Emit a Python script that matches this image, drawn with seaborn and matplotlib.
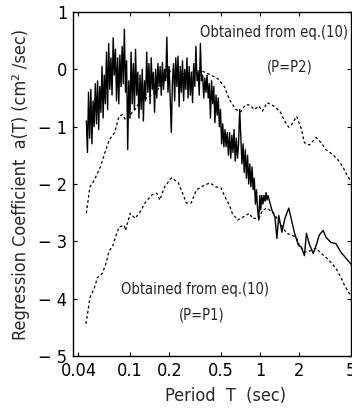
import matplotlib
matplotlib.use("Agg")
import matplotlib.pyplot as plt
import seaborn as sns
import pandas as pd
from matplotlib.ticker import FixedLocator, FixedFormatter, NullLocator
from matplotlib import font_manager as fm

# ---------------- data ----------------
# observed regression coefficient (solid, noisy)
obs_T = [
    0.0460, 0.0469, 0.0478, 0.0488, 0.0498, 0.0508, 0.0518, 0.0528, 0.0539, 0.0550,
    0.0561, 0.0572, 0.0583, 0.0595, 0.0607, 0.0619, 0.0631, 0.0644, 0.0657, 0.0670,
    0.0683, 0.0697, 0.0711, 0.0725, 0.0740, 0.0754, 0.0770, 0.0785, 0.0801, 0.0817,
    0.0833, 0.0850, 0.0867, 0.0884, 0.0902, 0.0920, 0.0938, 0.0957, 0.0976, 0.0996,
    0.1016, 0.1036, 0.1057, 0.1078, 0.1099, 0.1121, 0.1144, 0.1167, 0.1190, 0.1214,
    0.1238, 0.1263, 0.1288, 0.1314, 0.1340, 0.1367, 0.1394, 0.1422, 0.1451, 0.1480,
    0.1509, 0.1540, 0.1570, 0.1602, 0.1634, 0.1667, 0.1700, 0.1734, 0.1769, 0.1804,
    0.1840, 0.1877, 0.1914, 0.1953, 0.1992, 0.2032, 0.2072, 0.2114, 0.2156, 0.2199,
    0.2243, 0.2288, 0.2334, 0.2380, 0.2428, 0.2477, 0.2526, 0.2577, 0.2628, 0.2681,
    0.2734, 0.2789, 0.2845, 0.2902, 0.2960, 0.3019, 0.3079, 0.3141, 0.3204, 0.3268,
    0.3333, 0.3400, 0.3468, 0.3537, 0.3608, 0.3680, 0.3754, 0.3829, 0.3905, 0.3984,
    0.4063, 0.4145, 0.4228, 0.4312, 0.4398, 0.4486, 0.4576, 0.4668, 0.4761, 0.4856,
    0.4953, 0.5052, 0.5153, 0.5256, 0.5362, 0.5469, 0.5578,
    0.570, 0.582, 0.594, 0.606, 0.618, 0.630, 0.643, 0.656, 0.669, 0.682,
    0.696, 0.710, 0.724, 0.739, 0.754, 0.769, 0.784, 0.800, 0.816, 0.832,
    0.849, 0.866, 0.883, 0.901, 0.919, 0.937, 0.956, 0.975, 0.995,
    1.01, 1.03, 1.05, 1.07, 1.09, 1.11, 1.13, 1.15, 1.18, 1.233,
    1.30, 1.345, 1.39, 1.47, 1.55, 1.66, 1.75, 1.84, 1.97, 2.08,
    2.19, 2.27, 2.39, 2.56, 2.70, 2.85, 3.05, 3.21, 3.51, 3.83,
    4.18, 4.72, 5.0,
]
obs_V = [
    -0.90, -1.45, -0.40, -1.20, -0.35, -1.30, -0.55, -1.00, -0.25, -0.95,
    -0.20, -1.05, -0.30, -0.75, 0.05, -0.85, -0.10, -0.60, 0.30, -0.70,
    0.45, -0.35, 0.20, -0.45, 0.55, -0.10, 0.35, -0.55, 0.20, -0.60,
    0.25, -0.30, 0.40, -0.25, 0.70, -0.40, 0.15, -1.40, -0.20, -0.85,
    0.30, -0.60, 0.10, -0.70, 0.35, -0.45, -0.05, -0.85, -0.10, -0.70,
    0.00, -0.90, -0.20, -0.55, 0.30, -0.40, 0.10, -0.60, 0.20, -0.35,
    -0.05, -0.75, 0.00, -0.50, 0.10, -0.30, 0.05, -0.45, 0.12, -0.35,
    0.00, -0.20, 0.56, -0.40, 0.05, -0.50, -1.10, -0.20, 0.10, -0.55,
    0.20, -0.30, 0.23, -0.65, 0.05, -0.40, 0.15, -0.55, 0.00, -0.35,
    0.20, -0.50, 0.05, -0.45, -0.05, -0.58, 0.10, -0.30, 0.40, -0.20,
    -0.05, -0.45, 0.45, -0.20, -0.10, -0.50, -0.15, -0.40, -0.10, -0.50,
    -0.25, -0.85, -0.20, -0.60, -0.30, -0.93, -0.45, -0.80, -0.50, -1.00,
    -0.70, -1.30, -0.95, -1.35, -1.05, -1.35, -1.10,
    -1.50, -1.10, -1.55, -1.15, -1.45, -1.05, -1.60, -1.20, -1.55, -1.30,
    -0.70, -1.20, -1.65, -1.30, -1.80, -1.40, -1.90, -1.50, -2.00, -1.65,
    -2.05, -1.70, -2.10, -1.90, -2.35, -2.10, -2.45, -2.63, -2.20,
    -2.45, -2.20, -2.35, -2.20, -2.30, -2.15, -2.28, -2.20, -2.30, -2.46,
    -2.58, -2.95, -2.55, -2.84, -2.60, -2.42, -2.65, -2.86, -3.07, -3.10,
    -3.25, -2.86, -3.05, -3.21, -3.07, -2.89, -2.81, -2.93, -3.02, -3.04,
    -3.19, -3.33, -3.40,
]

# eq.(10) with P = P2 (upper dashed)
p2_T = [0.046, 0.049, 0.053, 0.059, 0.065, 0.069, 0.076, 0.082, 0.087, 0.092,
        0.10, 0.109, 0.119, 0.13, 0.157, 0.18, 0.208, 0.25, 0.30, 0.35,
        0.41, 0.47, 0.53, 0.58, 0.65, 0.71, 0.77, 0.83, 0.90, 0.98,
        1.04, 1.13, 1.27, 1.42, 1.55, 1.66, 1.75, 1.91, 2.08, 2.19,
        2.39, 2.70, 2.95, 3.21, 3.63, 3.97, 4.33, 4.64, 5.0]
p2_V = [-2.51, -2.05, -1.93, -1.70, -1.40, -1.23, -1.10, -0.82, -0.79, -0.88,
        -0.79, -0.70, -0.56, -0.52, -0.40, -0.22, 0.00, -0.08, -0.05, -0.02,
        -0.09, -0.16, -0.30, -0.53, -0.70, -0.74, -0.62, -0.62, -0.70, -0.64,
        -0.73, -0.58, -0.64, -0.73, -0.91, -1.01, -0.96, -0.82, -1.05, -1.28,
        -1.32, -1.19, -1.28, -1.40, -1.49, -1.58, -1.70, -1.84, -1.95]

# eq.(10) with P = P1 (lower dashed)
p1_T = [0.0456, 0.047, 0.049, 0.051, 0.053, 0.056, 0.061, 0.065, 0.069, 0.073,
        0.077, 0.082, 0.09, 0.092, 0.1, 0.109, 0.119, 0.13, 0.147, 0.16,
        0.169, 0.184, 0.208, 0.235, 0.256, 0.27, 0.295, 0.322, 0.35, 0.41,
        0.456, 0.5, 0.543, 0.58, 0.61, 0.67, 0.76, 0.83, 0.87, 0.98,
        1.04, 1.13, 1.27, 1.42, 1.6, 1.75, 1.9, 2.0, 2.19, 2.48,
        2.7, 2.95, 3.21, 3.51, 3.83, 4.18, 4.4, 4.7, 5.0]
p1_V = [-4.44, -4.26, -3.98, -3.90, -3.81, -3.63, -3.56, -3.39, -3.16, -3.10,
        -2.93, -2.75, -2.72, -2.81, -2.51, -2.60, -2.49, -2.33, -2.19, -2.16,
        -2.28, -2.05, -1.89, -1.98, -2.19, -2.33, -2.33, -2.11, -2.05, -1.98,
        -2.05, -2.07, -2.25, -2.37, -2.51, -2.63, -2.56, -2.51, -2.60, -2.60,
        -2.46, -2.42, -2.51, -2.68, -2.86, -2.89, -2.93, -3.07, -3.19, -3.16,
        -3.12, -3.21, -3.28, -3.37, -3.47, -3.63, -3.74, -3.86, -3.95]

x_ticks = [0.04, 0.1, 0.2, 0.5, 1, 2, 5]
x_tick_labels = ["0.04", "0.1", "0.2", "0.5", "1", "2", "5"]
y_ticks = [-5, -4, -3, -2, -1, 0, 1]
y_tick_labels = ["\u2212 5", "\u2212 4", "\u2212 3", "\u2212 2", "\u2212 1", "0", "1"]

# ---------------- style ----------------
sns.set_style("ticks")
names = {f.name for f in fm.fontManager.ttflist}
if "Liberation Sans Narrow" in names:
    plt.rcParams["font.family"] = ["Liberation Sans Narrow", "DejaVu Sans"]
else:
    plt.rcParams["font.family"] = ["DejaVu Sans"]
    plt.rcParams["font.stretch"] = "condensed"
plt.rcParams["xtick.direction"] = "in"
plt.rcParams["ytick.direction"] = "in"

fig = plt.figure(figsize=(3.52, 4.11), dpi=100)
ax = fig.add_axes([73 / 352, 55 / 411, 278 / 352, 344 / 411])

obs = pd.DataFrame({"T": obs_T, "a": obs_V})
p2 = pd.DataFrame({"T": p2_T, "a": p2_V})
p1 = pd.DataFrame({"T": p1_T, "a": p1_V})

sns.lineplot(data=obs, x="T", y="a", ax=ax, color="black", lw=1.0,
             estimator=None, sort=False)
sns.lineplot(data=p2, x="T", y="a", ax=ax, color="black", lw=0.9,
             estimator=None, sort=False, linestyle=(0, (2.2, 2.0)))
sns.lineplot(data=p1, x="T", y="a", ax=ax, color="black", lw=0.9,
             estimator=None, sort=False, linestyle=(0, (2.2, 2.0)))

ax.set_xscale("log")
ax.set_xlim(0.0363, 5.0)
ax.set_ylim(-5, 1)
ax.xaxis.set_major_locator(FixedLocator(x_ticks))
ax.xaxis.set_major_formatter(FixedFormatter(x_tick_labels))
ax.xaxis.set_minor_locator(NullLocator())
ax.set_yticks(y_ticks)
ax.set_yticklabels(y_tick_labels)
ax.tick_params(axis="both", which="major", labelsize=13, length=3, width=0.8,
               top=True, right=True, pad=4, colors="black")
for s in ax.spines.values():
    s.set_visible(True)
    s.set_linewidth(1.0)
    s.set_color("black")

ax.set_xlabel("Period  T  (sec)", fontsize=13, labelpad=1)
ax.xaxis.set_label_coords(0.55, -0.09)
ax.set_ylabel("Regression Coefficient  a(T) (cm\u00b2 /sec)", fontsize=13, labelpad=2)
ax.yaxis.set_label_coords(-0.155, 0.5)

ax.text(0.990, 0.939, "Obtained from eq.(10)", transform=ax.transAxes,
        ha="right", va="center", fontsize=10.5)
ax.text(0.78, 0.84, "(P=P2)", transform=ax.transAxes,
        ha="center", va="center", fontsize=10.5)
ax.text(0.44, 0.192, "Obtained from eq.(10)", transform=ax.transAxes,
        ha="center", va="center", fontsize=10.5)
ax.text(0.464, 0.119, "(P=P1)", transform=ax.transAxes,
        ha="center", va="center", fontsize=10.5)

fig.savefig("out.png", dpi=100)
